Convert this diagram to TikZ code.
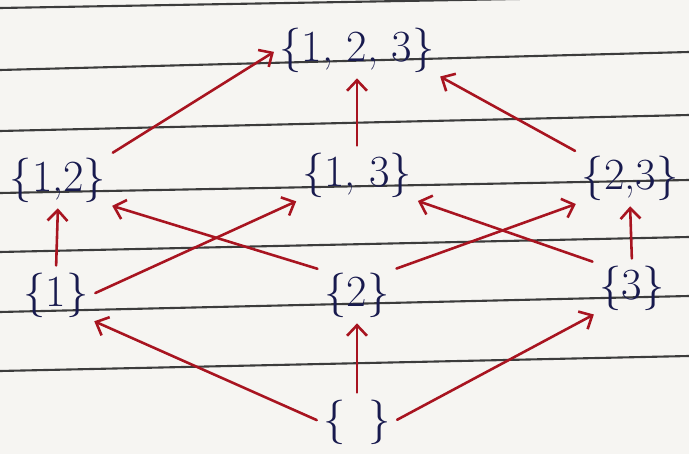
\documentclass[tikz,border=0pt]{standalone}
\usepackage{tikz}
\usetikzlibrary{arrows.meta}
\definecolor{ink_blue}{RGB}{24,26,78}
\definecolor{pen_red}{RGB}{168,20,32}
\definecolor{rule_gray}{RGB}{60,60,60}
\definecolor{paper}{RGB}{246,245,242}

\begin{document}
\begin{tikzpicture}[x=0.03cm, y=-0.03cm,
    setnode/.style={text=ink_blue, inner sep=2pt, font=\fontsize{38}{40}\selectfont},
    hasse/.style={pen_red, line width=2.2pt, line cap=round,
                  -{Straight Barb[length=9pt, width=17pt, line width=2.2pt]},
                  shorten <=4pt, shorten >=3pt}]
  \useasboundingbox (0,0) rectangle (689,454);
  % paper with ruled lines
  \fill[paper] (0,0) rectangle (689,454);
  \foreach \yl/\yr in {8/-4, 70/52, 131/115, 193/180, 252/237, 312/296, 371/356}{
    \draw[rule_gray, line width=1.8pt] (0,\yl) -- (689,\yr);
  }
  % the subsets
  \node[setnode] (n123) at (357,50) {\{1, 2, 3\}};
  \node[setnode] (n12) at (58,180) {\{1,2\}};
  \node[setnode] (n13) at (357,175) {\{1, 3\}};
  \node[setnode] (n23) at (630,178) {\{2,3\}};
  \node[setnode] (n1) at (56,295) {\{1\}};
  \node[setnode] (n2) at (357,295) {\{2\}};
  \node[setnode] (n3) at (632,288) {\{3\}};
  \node[setnode] (nE) at (357,422) {\{\enspace\}};
  % covering relations
  \draw[hasse] (n12.north east) -- (n123.west);
  \draw[hasse] (n13.north) -- (n123.south);
  \draw[hasse] (n23.north west) -- (n123.south east);
  \draw[hasse] (n1.north) -- (n12.south);
  \draw[hasse] (n1.east) -- (n13.south west);
  \draw[hasse] (n2.north west) -- (n12.south east);
  \draw[hasse] (n2.north east) -- (n23.south west);
  \draw[hasse] (n3.north west) -- (n13.south east);
  \draw[hasse] (n3.north) -- (n23.south);
  \draw[hasse] (nE.west) -- (n1.south east);
  \draw[hasse] (nE.north) -- (n2.south);
  \draw[hasse] (nE.east) -- (n3.south west);
\end{tikzpicture}
\end{document}
